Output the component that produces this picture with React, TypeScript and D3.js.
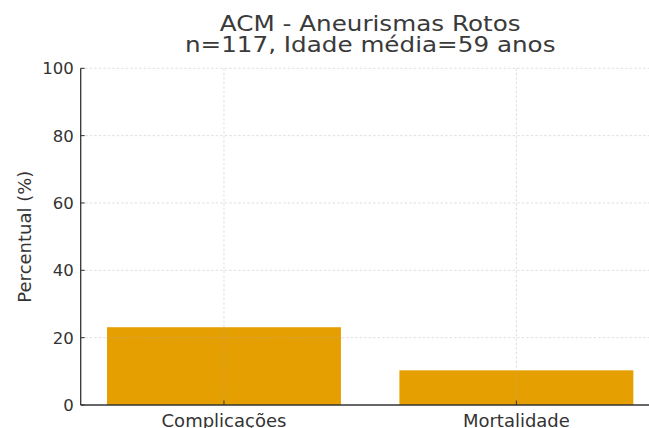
import React from "react";
import * as d3 from "d3";

const categories = ["Complicações", "Mortalidade"];
const values = [23.1, 10.3];
const yTicks = [0, 20, 40, 60, 80, 100];
const titleLines = ["ACM - Aneurismas Rotos", "n=117, Idade média=59 anos"];
const yLabel = "Percentual (%)";

const W = 649;
const H = 428;
const left = 80.7;
const bottom = 405;
const top = 68.3;
const step = 292.4;
const barWidth = 0.8;
const font = "'DejaVu Sans', sans-serif";
const ink = "#333333";

export default function App() {
  const x = d3
    .scaleLinear()
    .domain([-0.49, 1.49])
    .range([left, left + 1.98 * step]);
  const y = d3.scaleLinear().domain([0, 100]).range([bottom, top]);
  const axesCenter = (x(-0.49) + x(1.49)) / 2;

  return (
    <svg
      width={W}
      height={H}
      style={{ position: "fixed", left: 0, top: 0, background: "#fff" }}
    >
      <rect x={0} y={0} width={W} height={H} fill="#fff" />

      {/* bars */}
      {values.map((v, i) => (
        <rect
          key={categories[i]}
          x={x(i - barWidth / 2)}
          y={y(v)}
          width={x(i + barWidth / 2) - x(i - barWidth / 2)}
          height={y(0) - y(v)}
          fill="#E69F00"
        />
      ))}

      {/* grid */}
      <g stroke="#b0b0b0" strokeOpacity={0.5} strokeDasharray="2.5,2" strokeWidth={0.8}>
        {yTicks.slice(1).map((t) => (
          <line key={t} x1={left} x2={W} y1={y(t)} y2={y(t)} />
        ))}
        {categories.map((c, i) => (
          <line key={c} x1={x(i)} x2={x(i)} y1={top} y2={bottom} />
        ))}
      </g>

      {/* spines */}
      <line x1={left} x2={left} y1={top} y2={bottom} stroke={ink} strokeWidth={1.3} />
      <line x1={left} x2={W} y1={bottom} y2={bottom} stroke={ink} strokeWidth={1.3} />

      {/* y ticks */}
      {yTicks.map((t) => (
        <g key={t}>
          <line x1={left} x2={left + 4} y1={y(t)} y2={y(t)} stroke={ink} strokeWidth={1} />
          <text
            x={left - 7}
            y={y(t)}
            dy="0.36em"
            textAnchor="end"
            fontFamily={font}
            fontSize={16.5}
            fill={ink}
          >
            {t}
          </text>
        </g>
      ))}

      {/* x ticks */}
      {categories.map((c, i) => (
        <g key={c}>
          <line x1={x(i)} x2={x(i)} y1={bottom} y2={bottom - 4.5} stroke={ink} strokeWidth={1} />
          <text
            x={x(i)}
            y={426.5}
            textAnchor="middle"
            fontFamily={font}
            fontSize={18}
            fill={ink}
          >
            {c}
          </text>
        </g>
      ))}

      {/* y label */}
      <text
        transform={`translate(30.5,${(top + bottom) / 2}) rotate(-90)`}
        textAnchor="middle"
        fontFamily={font}
        fontSize={18}
        fill={ink}
      >
        {yLabel}
      </text>

      {/* title, slightly widened */}
      {titleLines.map((line, i) => (
        <text
          key={line}
          transform={`translate(${axesCenter},${30.5 + i * 21.5}) scale(1.12,1)`}
          textAnchor="middle"
          fontFamily={font}
          fontSize={22}
          fill="#3a3a3a"
        >
          {line}
        </text>
      ))}
    </svg>
  );
}
